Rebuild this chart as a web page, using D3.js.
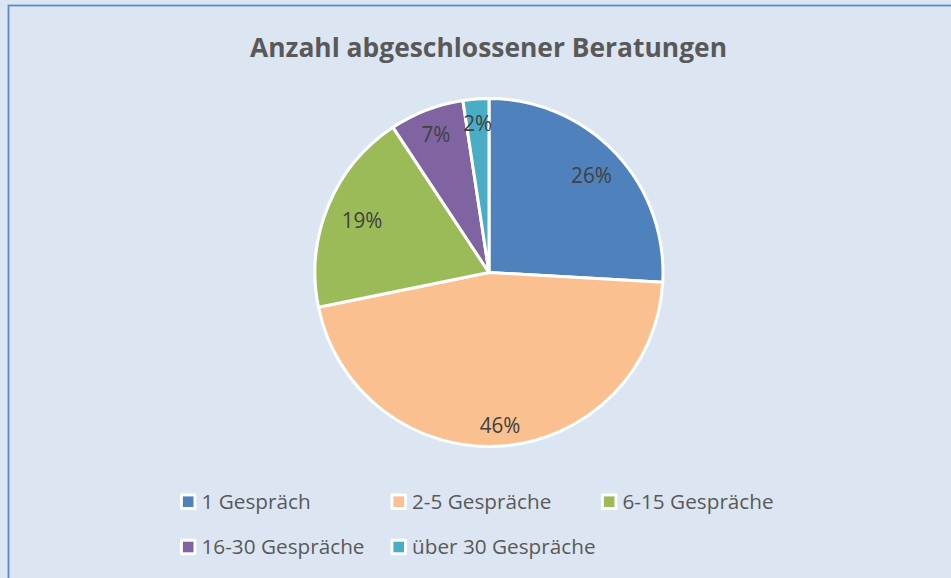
<!DOCTYPE html>
<html><head><meta charset="utf-8">
<script src="https://cdn.jsdelivr.net/npm/d3@7"></script>
<style>
html,body{margin:0;padding:0;background:#dce6f2;}
svg{display:block;}
</style></head>
<body>
<svg id="c" width="951" height="578"></svg>
<script>
const categories = ["1 Gespräch", "2-5 Gespräche", "6-15 Gespräche", "16-30 Gespräche", "über 30 Gespräche"];
const values = [25.9, 45.9, 18.9, 6.9, 2.4];
const percentLabels = ["26%", "46%", "19%", "7%", "2%"];
const colors = ["#4f81bd", "#fac090", "#9bbb59", "#8064a2", "#4bacc6"];
const title = "Anzahl abgeschlossener Beratungen";

// layout constants
const labelRadiusFactor = [0.81, 0.88, 0.79, 0.85, 0.86];
const W = 951, H = 578;
const cx = 489, cy = 272.5, R = 174;
const FONT = "'Open Sans', 'Noto Sans', sans-serif";

const svg = d3.select("#c");
svg.append("rect").attr("x", 0).attr("y", 0).attr("width", W).attr("height", H).attr("fill", "#dce6f2");
svg.append("rect").attr("x", 8.5).attr("y", 5.5).attr("width", W + 20).attr("height", H + 20)
  .attr("fill", "#dce6f2").attr("stroke", "#5b8bc7").attr("stroke-width", 1.8);

// condense a selection of texts so that the reference string has the target width
function condense(sel, refNode, targetWidth) {
  const ratio = targetWidth / refNode.getComputedTextLength();
  sel.each(function () {
    const w = this.getComputedTextLength();
    d3.select(this).attr("textLength", (w * ratio).toFixed(2)).attr("lengthAdjust", "spacingAndGlyphs");
  });
}

// title
const t = svg.append("text").attr("x", 488.5).attr("y", 56.5).attr("text-anchor", "middle")
  .attr("font-family", FONT).attr("font-weight", "bold").attr("font-size", 27)
  .attr("fill", "#595959").text(title);
condense(t, t.node(), 477);

const color = d3.scaleOrdinal().domain(categories).range(colors);
const pie = d3.pie().sort(null).value(d => d.v);
const data = categories.map((c, i) => ({ c, v: values[i], lab: percentLabels[i], i }));
const arcs = pie(data);
const arc = d3.arc().innerRadius(0).outerRadius(R);

const g = svg.append("g").attr("transform", `translate(${cx},${cy})`);
g.selectAll("path").data(arcs).join("path")
  .attr("d", arc).attr("fill", d => color(d.data.c))
  .attr("stroke", "#ffffff").attr("stroke-width", 3).attr("stroke-linejoin", "round");

// labels
const labs = g.selectAll("text.lab").data(arcs).join("text").attr("class", "lab")
  .attr("transform", d => {
    const a = (d.startAngle + d.endAngle) / 2;
    const r = R * labelRadiusFactor[d.data.i];
    return `translate(${r * Math.sin(a)},${-r * Math.cos(a)})`;
  })
  .attr("text-anchor", "middle").attr("dy", "0.36em")
  .attr("font-family", FONT).attr("font-size", 21.5).attr("fill", "#404040")
  .text(d => d.data.lab);
condense(labs, labs.filter(d => d.data.lab === "46%").node(), 40.7);

// legend
const legX = [180, 390.5, 601];
const legY = [501.7, 547];
const leg = svg.append("g");
const items = leg.selectAll("g").data(data).join("g")
  .attr("transform", d => `translate(${legX[d.i % 3]},${legY[Math.floor(d.i / 3)]})`);
items.append("rect").attr("x", 0).attr("y", -8.2).attr("width", 16.4).attr("height", 16.4)
  .attr("fill", "#ffffff").attr("rx", 1.5);
items.append("rect").attr("x", 2.9).attr("y", -5.3).attr("width", 10.6).attr("height", 10.6)
  .attr("fill", d => color(d.c));
const ltxt = items.append("text").attr("x", 21.5).attr("y", 7.3)
  .attr("font-family", FONT).attr("font-size", 19.5).attr("fill", "#595959").text(d => d.c);
condense(ltxt, ltxt.filter(d => d.i === 3).node(), 163);
</script>
</body></html>
